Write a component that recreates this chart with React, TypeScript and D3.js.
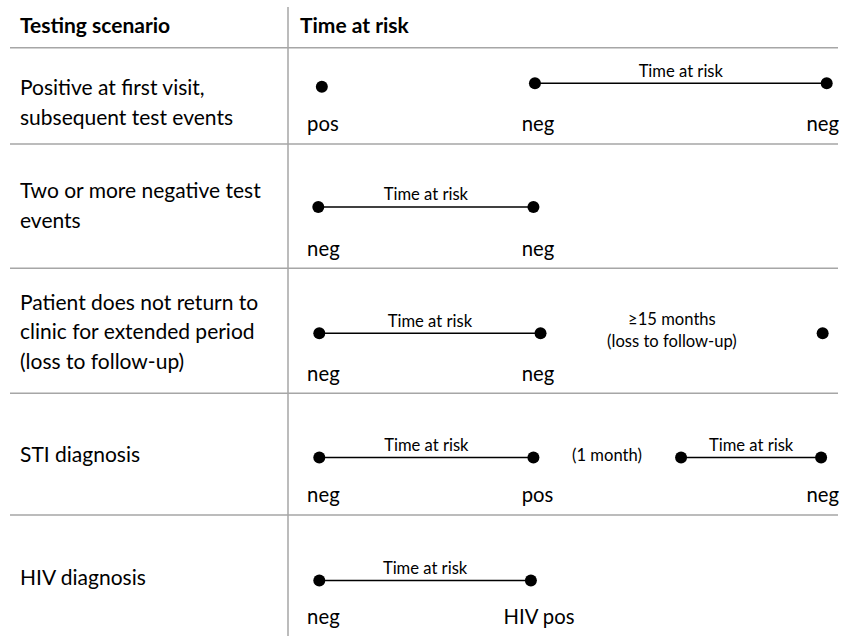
import React from "react";
import * as d3 from "d3";

// ---- data ----
const headers = ["Testing scenario", "Time at risk"];

const scenarioLines: string[][] = [
  ["Positive at first visit,", "subsequent test events"],
  ["Two or more negative test", "events"],
  ["Patient does not return to", "clinic for extended period", "(loss to follow-up)"],
  ["STI diagnosis"],
  ["HIV diagnosis"],
];

// event times on a schematic 0–100 time axis, per scenario row
const eventTimes: number[][] = [
  [0.5, 42.5, 100],
  [-0.2, 42.2],
  [0, 43.6, 99.2],
  [0, 42.2, 71.3, 98.9],
  [0, 41.7],
];

// event result labels [row, time position, text]
const eventLabels: [number, number, string][] = [
  [0, -2.4, "pos"],
  [0, 39.9, "neg"],
  [0, 96.0, "neg"],
  [1, -2.4, "neg"],
  [1, 39.9, "neg"],
  [2, -2.4, "neg"],
  [2, 39.9, "neg"],
  [3, -2.4, "neg"],
  [3, 39.9, "pos"],
  [3, 96.0, "neg"],
  [4, -2.4, "neg"],
  [4, 36.3, "HIV pos"],
];

// time-at-risk segments [row, start, end]
const riskSegments: [number, number, number][] = [
  [0, 42.5, 100],
  [1, -0.2, 42.2],
  [2, 0, 43.6],
  [3, 0, 42.2],
  [3, 71.3, 98.9],
  [4, 0, 41.7],
];

// interval notes [row, centre time, lines]
const gapNotes: [number, number, string[]][] = [
  [2, 69.5, ["≥15 months", "(loss to follow-up)"]],
  [3, 56.7, ["(1 month)"]],
];

export default function App() {
  const W = 847;
  const H = 636;
  const font = "Lato, 'Open Sans', sans-serif";
  const big = 21;
  const labelSize = 20.3;
  const small = 16.6;
  const grid = "#a6a6a6";

  // x: schematic time → pixels
  const x = d3.scaleLinear().domain([0, 100]).range([319.3, 826.7]);
  // y: row index → pixels (row boundaries)
  const rowEdge = d3.scaleLinear().domain([0, 1, 2, 3, 4, 5]).range([47.7, 144, 268.3, 393.3, 515, 640]);

  const lineY = [83.3, 207, 333.3, 457.5, 580.5];
  const pointY = (r: number, i: number) => (r === 0 && i === 0 ? 86.7 : lineY[r]);
  const labelY = [131, 256, 380.7, 501.7, 624];
  const textY = [95, 198.3, 309.5, 461.7, 585];
  const lineH = 29.5;

  return (
    <svg width={W} height={H} style={{ position: "absolute", left: 0, top: 0, background: "#fff" }}>
      {/* grid */}
      <line x1={288} x2={288} y1={7} y2={H} stroke={grid} strokeWidth={1.5} />
      {d3.range(0, 5).map((r) => (
        <line key={"h" + r} x1={10} x2={838} y1={rowEdge(r)} y2={rowEdge(r)} stroke={grid} strokeWidth={1.5} />
      ))}
      {/* headers */}
      <text x={20} y={33} fontFamily={font} fontWeight={700} fontSize={21} fill="#000">{headers[0]}</text>
      <text x={300} y={33} fontFamily={font} fontWeight={700} fontSize={21} fill="#000">{headers[1]}</text>
      {/* scenario text */}
      {scenarioLines.map((lines, r) =>
        lines.map((s, j) => (
          <text key={"s" + r + j} x={20} y={textY[r] + j * lineH} fontFamily={font} fontSize={big} fill="#000">{s}</text>
        ))
      )}
      {/* risk segments */}
      {riskSegments.map(([r, a, b], k) => (
        <g key={"seg" + k}>
          <line x1={x(a)} x2={x(b)} y1={lineY[r]} y2={lineY[r]} stroke="#000" strokeWidth={1.6} />
          <text x={(x(a) + x(b)) / 2} y={lineY[r] - 6.8} textAnchor="middle" fontFamily={font} fontSize={small} fill="#000">Time at risk</text>
        </g>
      ))}
      {/* events */}
      {eventTimes.map((ts, r) =>
        ts.map((t, i) => <circle key={"p" + r + i} cx={x(t)} cy={pointY(r, i)} r={6} fill="#000" />)
      )}
      {/* event labels */}
      {eventLabels.map(([r, t, s], k) => (
        <text key={"l" + k} x={x(t)} y={labelY[r]} fontFamily={font} fontSize={labelSize} fill="#000">{s}</text>
      ))}
      {/* gap notes */}
      {gapNotes.map(([r, t, lines], k) =>
        lines.map((s, j) => (
          <text
            key={"g" + k + j}
            x={x(t)}
            y={(lines.length > 1 ? lineY[r] - 8 : lineY[r] + 3.5) + j * 21.7}
            textAnchor="middle"
            fontFamily={font}
            fontSize={small}
            fill="#000"
          >
            {s}
          </text>
        ))
      )}
    </svg>
  );
}
